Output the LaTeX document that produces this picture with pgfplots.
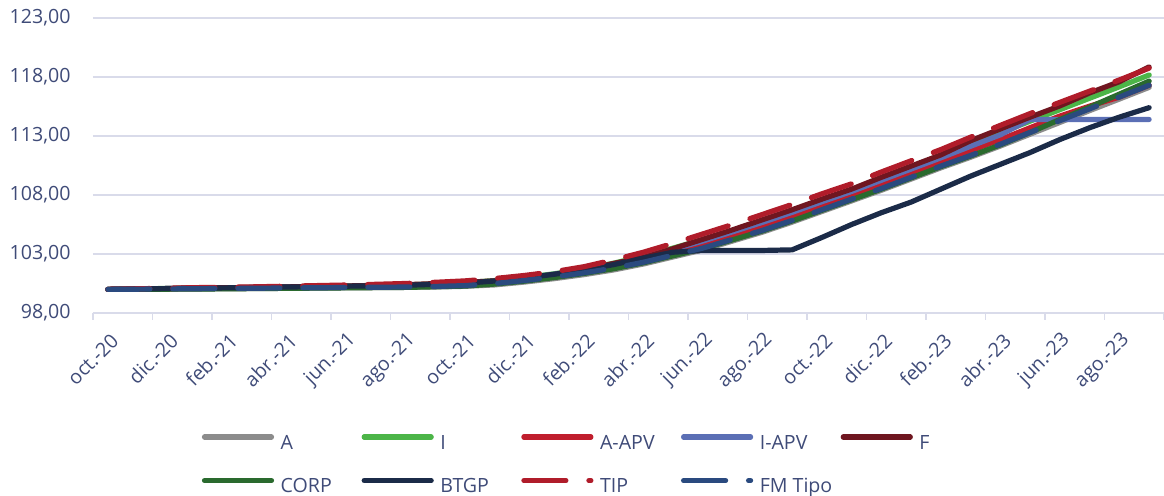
\documentclass[border=0pt]{standalone}
\usepackage{fontspec}
\setmainfont{Open Sans}
\usepackage{pgfplots}
\usepackage{pgfplotstable}
\pgfplotsset{compat=1.18}
\definecolor{txt}{HTML}{3F4B78}
\definecolor{gridc}{HTML}{D9DBEA}
\definecolor{cA}{HTML}{8C8C8C}
\definecolor{cI}{HTML}{4CB548}
\definecolor{cAAPV}{HTML}{C01E2D}
\definecolor{cIAPV}{HTML}{5B6FB5}
\definecolor{cF}{HTML}{6F1620}
\definecolor{cCORP}{HTML}{2A6A2E}
\definecolor{cBTGP}{HTML}{1B2B48}
\definecolor{cTIP}{HTML}{B01C2A}
\definecolor{cFM}{HTML}{2A4A7F}

\pgfplotstableread{
idx A I AAPV IAPV F CORP BTGP TIP FM
0 100.00 100.00 100.00 100.00 100.00 100.00 100.00 100.00 100.00
1 100.00 100.04 100.03 100.04 100.03 100.01 100.04 100.05 100.02
2 100.02 100.08 100.06 100.07 100.07 100.02 100.07 100.10 100.04
3 100.03 100.11 100.08 100.11 100.11 100.03 100.11 100.15 100.06
4 100.05 100.14 100.11 100.13 100.14 100.05 100.13 100.18 100.08
5 100.07 100.17 100.13 100.16 100.17 100.07 100.16 100.22 100.10
6 100.09 100.21 100.16 100.20 100.21 100.09 100.20 100.27 100.12
7 100.11 100.25 100.19 100.23 100.25 100.11 100.23 100.32 100.14
8 100.13 100.29 100.21 100.27 100.29 100.13 100.27 100.37 100.16
9 100.15 100.33 100.24 100.31 100.34 100.15 100.31 100.43 100.18
10 100.17 100.38 100.28 100.35 100.40 100.17 100.35 100.50 100.20
11 100.21 100.46 100.34 100.43 100.49 100.22 100.43 100.60 100.25
12 100.26 100.56 100.42 100.52 100.60 100.28 100.52 100.72 100.32
13 100.38 100.75 100.61 100.71 100.72 100.45 100.71 100.92 100.50
14 100.62 101.01 100.86 100.97 100.95 100.70 100.97 101.18 100.75
15 100.91 101.32 101.16 101.28 101.25 101.00 101.28 101.50 101.05
16 101.25 101.71 101.53 101.66 101.65 101.35 101.66 101.92 101.40
17 101.65 102.22 101.98 102.15 102.20 101.75 102.10 102.50 101.80
18 102.15 102.81 102.51 102.73 102.70 102.25 102.65 103.15 102.30
19 102.75 103.50 103.15 103.40 103.45 102.85 103.15 103.90 102.90
20 103.35 104.22 103.80 104.10 104.25 103.45 103.30 104.70 103.50
21 104.10 105.00 104.56 104.88 105.05 104.20 103.30 105.50 104.25
22 104.85 105.81 105.34 105.68 105.90 104.95 103.30 106.35 105.00
23 105.70 106.66 106.19 106.53 106.75 105.80 103.35 107.20 105.85
24 106.60 107.56 107.09 107.43 107.65 106.70 104.40 108.10 106.75
25 107.50 108.43 107.98 108.30 108.50 107.60 105.50 108.95 107.65
26 108.40 109.39 108.90 109.25 109.50 108.50 106.50 109.95 108.55
27 109.35 110.34 109.85 110.20 110.45 109.45 107.40 110.90 109.50
28 110.30 111.29 110.80 111.15 111.40 110.40 108.50 111.85 110.45
29 111.20 112.28 111.74 112.13 112.60 111.30 109.60 112.90 111.35
30 112.15 113.26 112.70 113.10 113.60 112.25 110.60 113.90 112.30
31 113.15 114.26 113.70 114.40 114.60 113.30 111.60 114.90 113.30
32 114.15 115.23 114.69 114.40 115.55 114.40 112.70 115.85 114.30
33 115.15 116.20 115.53 114.40 116.65 115.45 113.70 116.80 115.30
34 116.13 117.17 116.30 114.40 117.60 116.55 114.60 117.75 116.30
35 117.12 118.17 117.30 114.40 118.85 117.65 115.40 118.75 117.30
}\datatable

\begin{document}
\begin{tikzpicture}
\path[use as bounding box] (-46.5pt,-91.5pt) rectangle (535.5pt,156.5pt);
\begin{axis}[
  scale only axis,
  width=535.5pt, height=147.5pt,
  xmin=-0.5, xmax=35.5, ymin=98, ymax=123,
  axis x line*=bottom, axis y line*=left,
  y axis line style={draw=none},
  x axis line style={draw=gridc, line width=0.75pt},
  ytick={98,103,...,123},
  ytick style={draw=none},
  ymajorgrids,
  major grid style={draw=gridc, line width=0.75pt},
  xtick={0,2,...,34},
  xticklabels={oct.-20,dic.-20,feb.-21,abr.-21,jun.-21,ago.-21,oct.-21,dic.-21,feb.-22,abr.-22,jun.-22,ago.-22,oct.-22,dic.-22,feb.-23,abr.-23,jun.-23,ago.-23},
  major tick length=0pt,
  minor xtick={-0.5,1.5,...,35.5},
  minor tick length=3.5pt,
  tick align=outside,
  minor x tick style={draw=gridc, line width=0.75pt},
  tick label style={font=\fontsize{9.8pt}{12pt}\selectfont, text=txt},
  yticklabel style={xshift=-7.7pt, /pgf/number format/.cd, fixed, fixed zerofill, precision=2, use comma, assume math mode=true},
  xticklabel style={xshift=6pt, yshift=-9.7pt, rotate=45, anchor=east},
  every axis plot/.append style={line width=2.6pt, line cap=round, line join=round},
  legend columns=5,
  legend style={at={(axis description cs:0.1013,-0.517)}, anchor=west, draw=none, fill=none,
    inner sep=0pt, row sep=12.5pt, column sep=0pt,
    nodes={inner sep=0pt, text height=7pt, text depth=2pt, text=txt, font=\fontsize{9.8pt}{12pt}\selectfont}},
  legend image code/.code={\draw[#1] (0pt,3.5pt) -- (33.5pt,3.5pt);},
]
\addplot[cA] table[x=idx, y=A] {\datatable};
\addlegendentry{\makebox[43.75pt][l]{\hspace{3.3pt}A}}
\addplot[cI] table[x=idx, y=I] {\datatable};
\addlegendentry{\makebox[43.75pt][l]{\hspace{3.3pt}I}}
\addplot[cAAPV] table[x=idx, y=AAPV] {\datatable};
\addlegendentry{\makebox[43.75pt][l]{\hspace{3.3pt}A-APV}}
\addplot[cIAPV] table[x=idx, y=IAPV] {\datatable};
\addlegendentry{\makebox[43.75pt][l]{\hspace{3.3pt}I-APV}}
\addplot[cF] table[x=idx, y=F] {\datatable};
\addlegendentry{\makebox[43.75pt][l]{\hspace{3.3pt}F}}
\addplot[cCORP] table[x=idx, y=CORP] {\datatable};
\addlegendentry{\makebox[43.75pt][l]{\hspace{3.3pt}CORP}}
\addplot[cBTGP] table[x=idx, y=BTGP] {\datatable};
\addlegendentry{\makebox[43.75pt][l]{\hspace{3.3pt}BTGP}}
\addplot[cTIP, dash pattern=on 21pt off 11.5pt] table[x=idx, y=TIP] {\datatable};
\addlegendentry{\makebox[43.75pt][l]{\hspace{3.3pt}TIP}}
\addplot[cFM, dash pattern=on 21pt off 11.5pt] table[x=idx, y=FM] {\datatable};
\addlegendentry{\makebox[43.75pt][l]{\hspace{3.3pt}FM Tipo}}
\end{axis}
\end{tikzpicture}
\end{document}
